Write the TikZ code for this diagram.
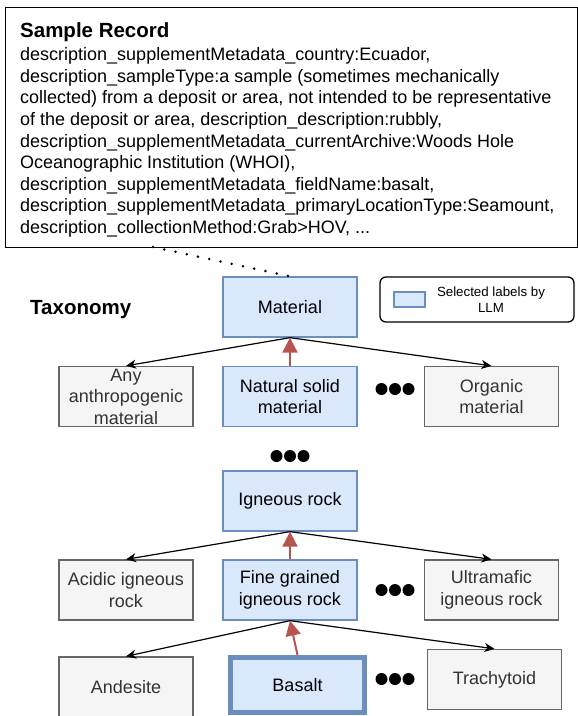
\documentclass[tikz,border=0pt]{standalone}
\usepackage{fontspec}
\setmainfont{Liberation Sans}
\usetikzlibrary{arrows.meta}

\definecolor{pickfill}{HTML}{DAE8FC}
\definecolor{pickline}{HTML}{6C8EBF}
\definecolor{restfill}{HTML}{F5F5F5}
\definecolor{restline}{HTML}{666666}
\definecolor{resttext}{HTML}{333333}
\definecolor{upred}{HTML}{B85450}

\newcommand{\boxfont}{\fontsize{18}{21.6}\selectfont}
\newcommand{\headfont}{\fontsize{20.5}{24}\selectfont\bfseries}

\begin{document}
\begin{tikzpicture}[x=1pt,y=-1pt,
  picked/.style={draw=pickline, fill=pickfill, line width=1.3pt, minimum width=134pt,
    minimum height=60pt, align=center, font=\boxfont, inner sep=2pt},
  unpicked/.style={draw=restline, fill=restfill, text=resttext, line width=1.3pt,
    minimum width=134pt, minimum height=60pt, align=center, font=\boxfont, inner sep=2pt},
  childlink/.style={-{Stealth[length=10pt,width=9pt,inset=3pt]}, line width=1.2pt},
  pathlink/.style={-{Triangle[length=15pt,width=15pt]}, draw=upred, line width=2pt},
  moredots/.style={minimum width=42pt, minimum height=14pt, inner sep=0pt,
    path picture={\foreach \k in {-1,0,1}
      \fill ([xshift=\k*13.5pt]path picture bounding box.center) circle (6pt);}}
]
  \useasboundingbox (0,0) rectangle (578,716);

  % sample record
  \node [draw, line width=1.4pt, anchor=north west, minimum width=572pt, minimum height=240pt] (record) at (5,7) {};
  \node [anchor=base west, font=\headfont, inner sep=0pt] (rectitle) at (20,37) {Sample Record};
  \node [anchor=north west, align=left, font=\boxfont, inner sep=0pt] (recbody) at (20,47.5) {%
    description\_supplementMetadata\_country:Ecuador,\\
    description\_sampleType:a sample (sometimes mechanically\\
    collected) from a deposit or area, not intended to be representative\\
    of the deposit or area, description\_description:rubbly,\\
    description\_supplementMetadata\_currentArchive:Woods Hole\\
    Oceanographic Institution (WHOI),\\
    description\_supplementMetadata\_fieldName:basalt,\\
    description\_supplementMetadata\_primaryLocationType:Seamount,\\
    description\_collectionMethod:Grab>HOV, ...};

  % taxonomy
  \node [anchor=base west, font=\headfont, inner sep=0pt] (taxtitle) at (30,314) {Taxonomy};

  \node [picked] (mat) at (290,307) {Material};
  \node [unpicked, label={[font=\boxfont, text=resttext, align=center]center:Any\\anthropogenic\\material}] (anth) at (126,396.5) {};
  \node [picked] (nsm) at (290,396.5) {Natural solid\\material};
  \node [moredots] (dotsa) at (395,389) {};
  \node [unpicked] (org) at (491.5,396.5) {Organic\\material};

  \node [moredots] (dotsb) at (290,456) {};

  \node [picked] (ign) at (290,501) {Igneous rock};
  \node [unpicked] (acid) at (126,590) {Acidic igneous\\rock};
  \node [picked] (fine) at (290,590) {Fine grained\\igneous rock};
  \node [moredots] (dotsc) at (395,590) {};
  \node [unpicked] (ultra) at (491.5,590) {Ultramafic\\igneous rock};

  \node [unpicked] (ande) at (126,687) {Andesite};
  \node [picked, line width=5pt, minimum height=55pt] (bas) at (297.5,685) {Basalt};
  \node [moredots] (dotsd) at (395,679) {};
  \node [unpicked] (trach) at (494.5,679.5) {Trachytoid};

  % legend
  \node [draw, rounded corners=6pt, line width=1.3pt, minimum width=194pt, minimum height=45pt] (legend) at (477,299.5) {};
  \node [draw=pickline, fill=pickfill, line width=1.3pt, minimum width=31pt, minimum height=15pt, inner sep=0pt] (swatch) at (409.5,299.5) {};
  \node [font=\fontsize{13.3}{16}\selectfont, align=center] (legtext) at (491,300) {Selected labels by\\LLM};

  % links
  \coordinate (recfoot) at (153,247);
  \draw [line width=2.8pt, line cap=round, dash pattern=on 0pt off 11.5pt] (recfoot) -- (mat.north);

  \draw [childlink] (mat.south) -- (anth.north);
  \draw [childlink] (mat.south) -- (org.north);
  \draw [childlink] (ign.south) -- (acid.north);
  \draw [childlink] (ign.south) -- (ultra.north);
  \draw [childlink] (fine.south) -- (ande.north);
  \draw [childlink] (fine.south) -- (trach.north);

  \draw [pathlink] (nsm.north) -- (mat.south);
  \draw [pathlink] (fine.north) -- (ign.south);
  \draw [pathlink] (bas.north) -- (fine.south);
\end{tikzpicture}
\end{document}
